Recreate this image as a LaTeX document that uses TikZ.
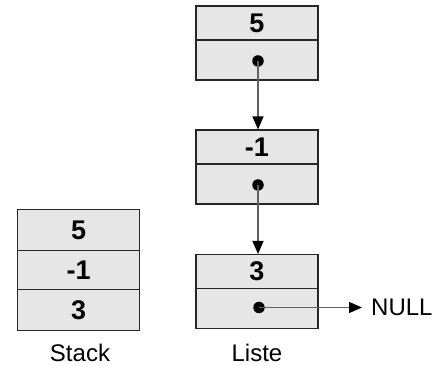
\documentclass[tikz,border=0pt]{standalone}
\usepackage{fontspec}
\setmainfont{Liberation Sans}
\usetikzlibrary{arrows.meta}
\definecolor{cellgray}{HTML}{E6E6E6}
\definecolor{linegray}{HTML}{606060}
\begin{document}
\begin{tikzpicture}[x=1pt,y=-1pt,
  cell/.style={draw=black!85, line width=1.1pt, fill=cellgray, minimum width=122pt,
    inner sep=0pt, font=\bfseries\fontsize{27}{27}\selectfont},
  dot/.style={circle, fill=black, inner sep=0pt, minimum size=11.5pt},
  ptr/.style={draw=linegray, line width=1.3pt, -{Triangle[length=13pt,width=11pt,fill=black,color=black]}},
  lbl/.style={font=\fontsize{24}{24}\selectfont, inner sep=0pt}
]
\useasboundingbox (0,0) rectangle (440,366);
% list element 1
\node[cell, minimum height=34pt] (v1) at (257,23) {5};
\node[cell, minimum height=40pt] (p1) at (257,60) {};
\node[dot] (d1) at (258,61) {};
% list element 2
\node[cell, minimum height=34pt] (v2) at (257,147) {-1};
\node[cell, minimum height=40pt] (p2) at (257,184) {};
\node[dot] (d2) at (258,185) {};
% list element 3
\node[cell, minimum height=34pt] (v3) at (257,271.5) {3};
\node[cell, minimum height=40pt] (p3) at (257,308.5) {};
\node[dot] (d3) at (259,307.5) {};
% stack
\node[cell, minimum height=41pt] (s1) at (78.7,230) {5};
\node[cell, minimum height=39pt] (s2) at (78.7,270) {-1};
\node[cell, minimum height=41pt] (s3) at (78.7,310) {3};
% NULL
\node[lbl, anchor=west] (null) at (371,307.5) {NULL};
% connectors
\draw[ptr] (d1.center) -- (v2.north -| d1);
\draw[ptr] (d2.center) -- (v3.north -| d2);
\draw[ptr] (d3.center) -- ([xshift=-9pt]null.west);
% labels
\node[lbl] (stack) at (80,352.5) {Stack};
\node[lbl] (liste) at (257,352.5) {Liste};
\end{tikzpicture}
\end{document}
